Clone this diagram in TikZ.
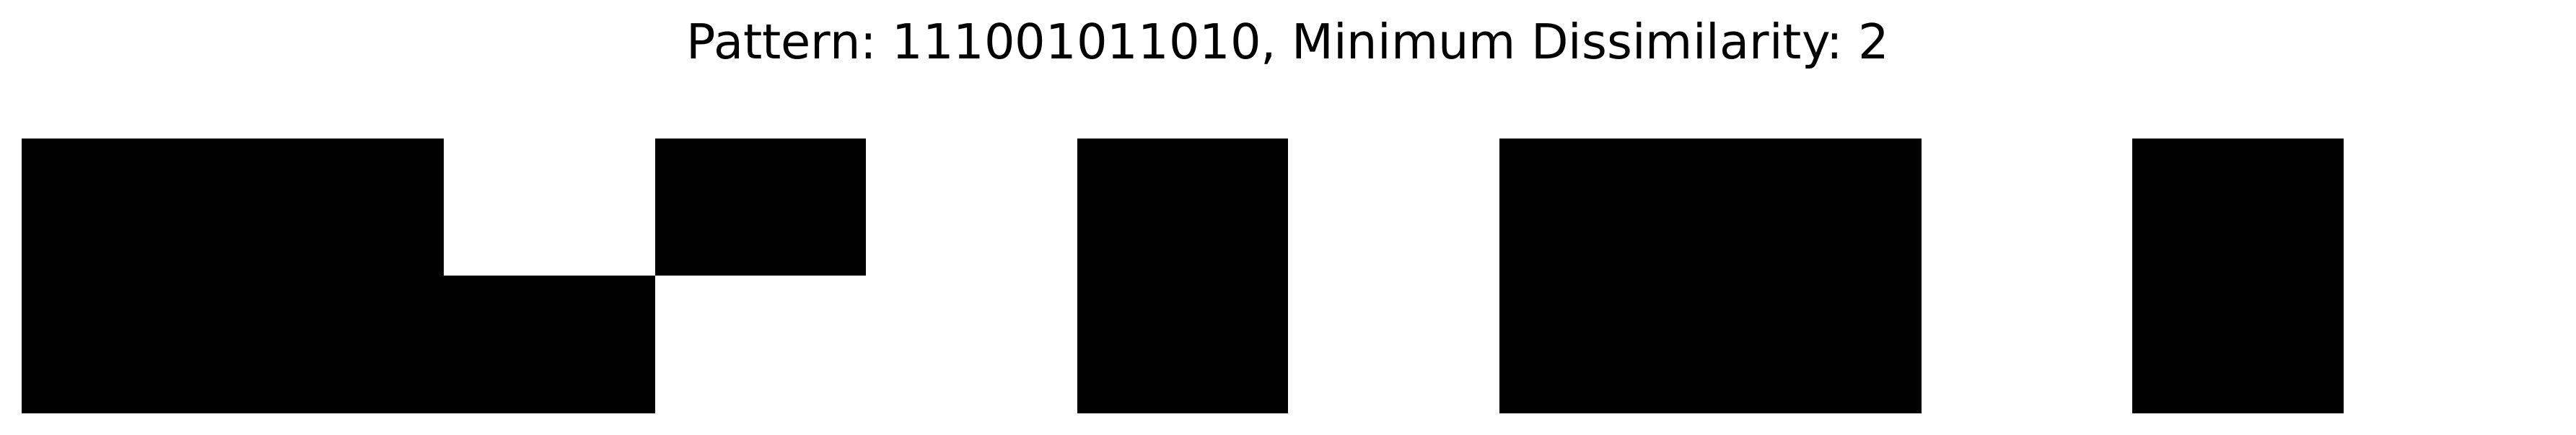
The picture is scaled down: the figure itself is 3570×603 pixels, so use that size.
\documentclass[tikz,border=0pt]{standalone}
\usepackage{fontspec}
\setmainfont{DejaVu Sans}
\frenchspacing
\begin{document}
\begin{tikzpicture}[x=0.5pt, y=0.5pt, cell/.style = {fill=black, draw=none}, heading/.style = {anchor=base, inner sep=0pt, font=\fontsize{33.5}{40}\selectfont}]
		\useasboundingbox (0,0) rectangle (3570,603);
		\node[heading] (title) at (1785,521.5) {Pattern: 111001011010, Minimum Dissimilarity: 2};
		% top row
		\foreach \c in {0,1,3,5,7,8,10}
			\fill[cell] ({30+292.5*\c},221) rectangle ({30+292.5*(\c+1)},411);
		% bottom row
		\foreach \c in {0,1,2,5,7,8,10}
			\fill[cell] ({30+292.5*\c},30) rectangle ({30+292.5*(\c+1)},221);
	\end{tikzpicture}
\end{document}
